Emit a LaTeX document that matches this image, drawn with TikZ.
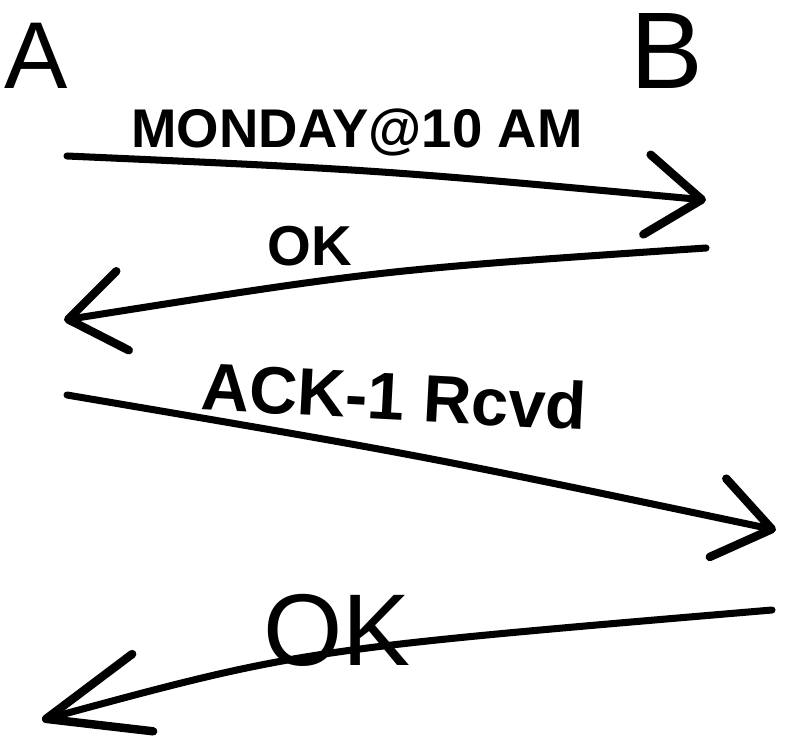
\documentclass[tikz,border=0pt]{standalone}
\usepackage{fontspec}
\setmainfont{Liberation Sans}
\usetikzlibrary{arrows.meta}

\tikzset{
  msg/.style={line width=2pt, line cap=round, line join=round,
    -{Straight Barb[length=5.5mm, width=8mm, line width=2.4pt, round]}},
  bigmsg/.style={msg,
    -{Straight Barb[length=10mm, width=8mm, line width=2.4pt, round]}},
  peer/.style={anchor=base, inner sep=0pt},
  lbl/.style={anchor=base, inner sep=0pt}
}

\begin{document}
\begin{tikzpicture}[x=0.01cm, y=-0.01cm]
  % Khung
  \useasboundingbox (0,0) rectangle (787,739);
  % Hai ben
  \node[peer, font=\fontsize{27}{27}\selectfont] (A) at (36,88) {A};
  \node[peer, font=\fontsize{31}{31}\selectfont] (B) at (667,88) {B};
  % Cac diem dau, cuoi
  \coordinate (s1) at (67,156);
  \coordinate (e1) at (706,200);
  \coordinate (s2) at (706,248);
  \coordinate (e2) at (64,320);
  \coordinate (s3) at (67,395);
  \coordinate (e3) at (776,530);
  \coordinate (s4) at (772,610);
  \coordinate (e4) at (42,720);
  % Cac mui ten
  \draw[msg] (s1) .. controls (380,170) .. (e1);
  \draw[msg] (s2) .. controls (380,270) .. (e2);
  \draw[msg] (s3) .. controls (420,455) .. (e3);
  \draw[bigmsg] (s4) .. controls (300,650) .. (e4);
  % Nhan
  \node[lbl, font=\fontsize{15.5}{16}\selectfont\bfseries] (m1) at (357,147) {MONDAY@10 AM};
  \node[lbl, font=\fontsize{16}{16}\selectfont\bfseries] (m2) at (310,265) {OK};
  \node[lbl, font=\fontsize{19}{19}\selectfont\bfseries, rotate=-3] (m3) at (393,420) {ACK-1 Rcvd};
  \node[lbl, font=\fontsize{29}{29}\selectfont] (m4) at (337,665) {OK};
\end{tikzpicture}
\end{document}
